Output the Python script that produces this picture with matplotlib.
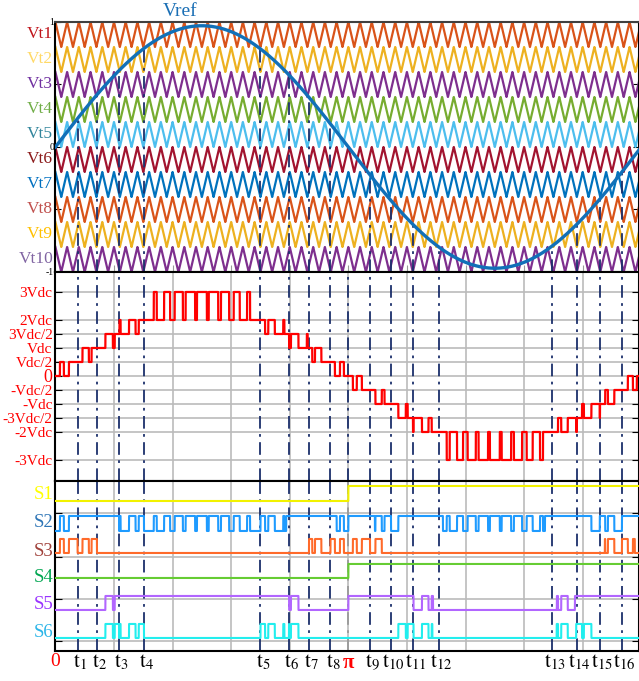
import numpy as np
import matplotlib
matplotlib.use('Agg')
import matplotlib.pyplot as plt

plt.rcParams['font.family'] = ['Liberation Serif', 'DejaVu Serif']
plt.rcParams['mathtext.fontset'] = 'stix'

# ---- data ----
m_a = 0.97            # modulation index of Vref
n_carriers = 50       # carrier periods per fundamental period
# switching instants t1..t16 (degrees)
t_deg = [13.6, 25.6, 39.1, 54.4, 126.0, 143.5, 155.8, 169.0,
         193.3, 206.2, 219.7, 235.7, 305.1, 320.4, 334.6, 348.1]
# carrier band active in each interval 0,t1,...,t8,pi,t9,...,t16,2pi
seg_band = [1, 2, 3, 4, 5, 4, 3, 2, 1, -1, -2, -3, -4, -5, -4, -3, -2, -1]
levels = [0, 0.5, 1, 1.5, 2, 3]   # output levels in Vdc

carrier_names = ['Vt1', 'Vt2', 'Vt3', 'Vt4', 'Vt5', 'Vt6', 'Vt7', 'Vt8', 'Vt9', 'Vt10']
carrier_colors = ['#D95319', '#EDB120', '#7E2F8E', '#77AC30', '#4DBEEE',
                  '#A2142F', '#0072BD', '#D95319', '#EDB120', '#7E2F8E']
carrier_label_colors = ['#C0151B', '#FFD966', '#7030A0', '#70AD47', '#31859C',
                        '#8B1A1A', '#0070C0', '#C0504D', '#FFC000', '#8064A2']

v_ticks = [3, 2, 1.5, 1, 0.5, 0, -0.5, -1, -1.5, -2, -3]
v_labels = ['3Vdc', '2Vdc', '3Vdc/2', 'Vdc', 'Vdc/2', '0',
            '-Vdc/2', '-Vdc', '-3Vdc/2', '-2Vdc', '-3Vdc']

s_names = ['S1', 'S2', 'S3', 'S4', 'S5', 'S6']
s_line_colors = ['#F2F200', '#1E9BFF', '#FF6A2A', '#66CC33', '#B266FF', '#22EEEE']
s_label_colors = ['#FFFF00', '#2E75B6', '#A0413A', '#00A651', '#9933FF', '#2BB5E8']
# (start deg, end deg, state) ; 'p' = follows the PWM pulses
s_regions = [
    [(0, 180, 0), (180, 360, 1)],
    [(0, 12, 'p'), (12, 38.5, 1), (38.5, 141.8, 'p'), (141.8, 172.8, 1), (172.8, 180, 'p'),
     (180, 196.3, 1), (196.3, 214, 'p'), (214, 238.1, 1), (238.1, 300.8, 'p'),
     (300.8, 326.5, 1), (326.5, 348.5, 'p'), (348.5, 360, 1)],
    [(0, 25.5, 'p'), (25.5, 155.5, 0), (155.5, 201.2, 'p'), (201.2, 337.6, 0),
     (337.6, 356, 'p'), (356, 360, 0)],
    [(0, 180, 0), (180, 360, 1)],
    [(0, 25.6, 0), (25.6, 36.6, 'p'), (36.6, 143.5, 1), (143.5, 153.3, 'p'), (153.3, 180, 0),
     (180, 219.7, 1), (219.7, 232, 'p'), (232, 308.1, 0), (308.1, 319.2, 'p'), (319.2, 360, 1)],
    [(0, 25.6, 0), (25.6, 54.4, 'p'), (54.4, 125.5, 0), (125.5, 154, 'p'), (154, 208.6, 0),
     (208.6, 231.6, 'p'), (231.6, 308, 0), (308, 330.2, 'p'), (330.2, 360, 0)],
]

# layout of the switching-signal panel (panel units)
s_low = [150, 120, 98, 73, 41, 13]
s_amp = [15, 15, 14, 14, 14, 14]
s_label_y = [156, 128, 99, 73, 46, 18]

# ---- waveforms ----
x = np.linspace(0, 360, 72001)
vref = m_a * np.sin(np.radians(x))
tri = np.abs(2 * ((x * n_carriers / 360.0) % 1) - 1)

bounds = [0] + t_deg[:8] + [180] + t_deg[8:] + [360]
seg = np.clip(np.searchsorted(bounds, x, side='right') - 1, 0, len(seg_band) - 1)
band = np.array(seg_band)[seg]
b = np.abs(band)
gate = np.abs(vref) > (b - 1) * 0.2 + 0.2 * tri
lv = np.array(levels)
vout = np.sign(band) * np.where(gate, lv[b], lv[b - 1])

XMAX = 358.6
navy = '#1B2F6B'
dash = (0, (7, 3, 1.5, 3))
grid_c = '#BBBBBB'

fig = plt.figure(figsize=(6.39, 6.81), dpi=100)
L, W = 0.0867, 0.9133
ax1 = fig.add_axes([L, 0.6006, W, 0.3671])
ax2 = fig.add_axes([L, 0.2937, W, 0.3069])
ax3 = fig.add_axes([L, 0.0441, W, 0.2496])

# ---- top: carriers + reference ----
for k in range(10):
    lower = 0.8 - 0.2 * k
    ax1.plot(x, lower + 0.2 * tri, color=carrier_colors[k], lw=1.6, zorder=2)
    ax1.text(-0.004, lower + 0.1, carrier_names[k], transform=ax1.get_yaxis_transform(),
             ha='right', va='center', fontsize=12.5, color=carrier_label_colors[k])
ax1.plot(x, vref, color='#1170B8', lw=2.4, zorder=4)
tv = m_a * np.sin(np.radians(np.array(t_deg)))
ax1.vlines(t_deg, -1, tv, colors=navy, linestyles=dash, lw=1.3, zorder=3)
ax1.text(76.5, 1.085, 'Vref', ha='center', va='center', fontsize=14, color='#1A6FB5',
         clip_on=False)
ax1.set_xlim(0, XMAX)
ax1.set_ylim(-1, 1)
ax1.set_yticks([-1, -0.5, 0, 0.5, 1], ['-1', '', '0', '', '1'])
ax1.set_xticks(np.arange(36, 360, 36))
ax1.tick_params(axis='y', direction='in', left=True, right=True, labelsize=7, pad=1, length=4)
ax1.tick_params(axis='x', direction='in', labelbottom=False, color='#999999', length=5)
ax1.spines['top'].set_color('#404040')

# ---- middle: output voltage ----
ax2.plot(x, vout, color='red', lw=1.6, zorder=3)
for t in t_deg + [180]:
    ax2.axvline(t, color=navy, ls=dash, lw=1.3, zorder=2)
ax2.set_xlim(0, XMAX)
ax2.set_ylim(-3.75, 3.714)
ax2.set_yticks(v_ticks, v_labels)
ax2.set_xticks(np.arange(36, 360, 36))
ax2.grid(True, color=grid_c, lw=1.2, zorder=0)
ax2.tick_params(axis='y', direction='in', left=True, right=True, labelcolor='red',
                labelsize=11, pad=2, length=5)
ax2.tick_params(axis='x', direction='in', labelbottom=False, length=0)
for lab in ax2.get_yticklabels():
    if lab.get_text() == '0':
        lab.set_fontsize(13)

# ---- bottom: switching signals ----
for i in range(6):
    s = np.zeros_like(x)
    for a, e, st in s_regions[i]:
        m = (x >= a) & (x <= e)
        s[m] = gate[m] if st == 'p' else st
    ax3.plot(x, s_low[i] + s_amp[i] * s, color=s_line_colors[i], lw=1.5, zorder=3)
    ax3.text(-0.004, s_label_y[i], s_names[i], transform=ax3.get_yaxis_transform(),
             ha='right', va='center', fontsize=13.5, color=s_label_colors[i])
for t in t_deg:
    ax3.axvline(t, color=navy, ls=dash, lw=1.3, zorder=2)
ax3.axvline(180, color='#999999', ls=dash, lw=1.3, zorder=2)
ax3.set_xlim(0, XMAX)
ax3.set_ylim(0, 170)
ax3.set_yticks([10, 52, 94, 138])
ax3.set_xticks(np.arange(36, 360, 36))
ax3.grid(True, color=grid_c, lw=1.2, zorder=0)
ax3.tick_params(axis='y', direction='in', left=True, right=True, labelleft=False, length=5)
ax3.tick_params(axis='x', direction='in', labelbottom=False, length=0)

xt = ax3.get_xaxis_transform()
ax3.text(0, -0.01, '0', transform=xt, ha='center', va='top', fontsize=14, color='red')
ax3.text(180, -0.01, 'π', transform=xt, ha='center', va='top', fontsize=15,
         color='red', fontweight='bold')
for k, t in enumerate(t_deg):
    ax3.text(t + 1.5, -0.01, r'$\mathrm{t}_{%d}$' % (k + 1), transform=xt,
             ha='center', va='top', fontsize=15, color='black')

for ax in (ax1, ax2, ax3):
    for sp in ax.spines.values():
        sp.set_linewidth(1.5)

fig.savefig('out.png', dpi=100)
